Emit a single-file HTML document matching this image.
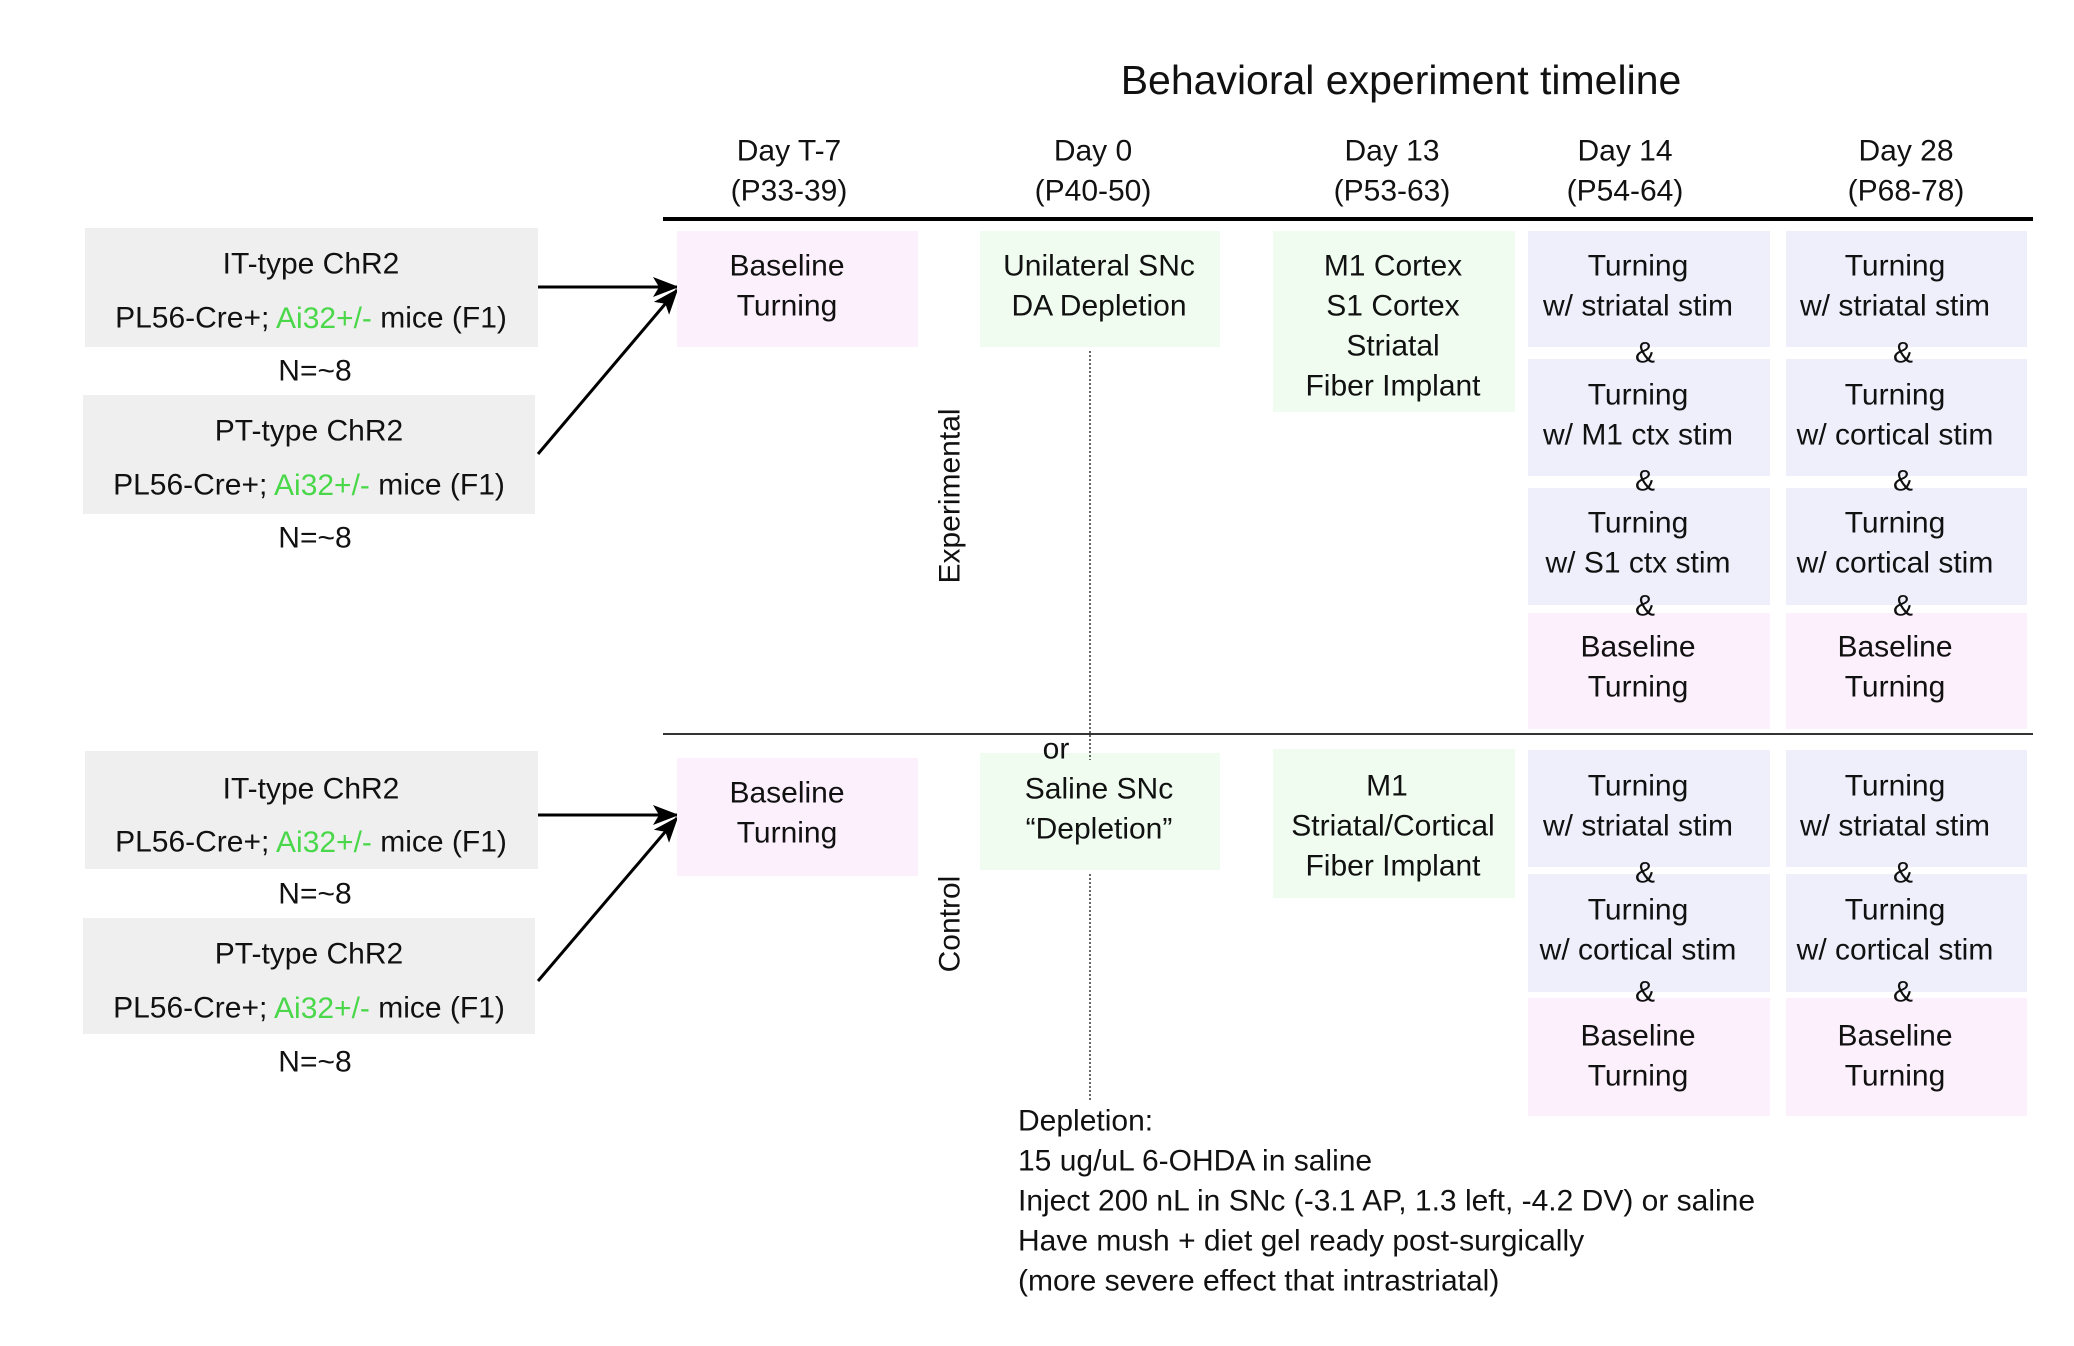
<!DOCTYPE html>
<html><head><meta charset="utf-8"><style>
html,body{margin:0;padding:0;background:#fff;}
svg{display:block;}
text{font-family:"Liberation Sans",Arial,sans-serif;font-size:30px;fill:#111;}
</style></head><body>
<svg width="2074" height="1346" viewBox="0 0 2074 1346" xmlns="http://www.w3.org/2000/svg">
<defs><marker id="ah" markerWidth="10" markerHeight="10" refX="9" refY="5" orient="auto" markerUnits="userSpaceOnUse" viewBox="0 0 10 10"><path d="M0,0 L10,5 L0,10 z" fill="#000"/></marker>
<marker id="ah2" markerWidth="26" markerHeight="26" refX="24" refY="13" orient="auto" markerUnits="userSpaceOnUse"><path d="M0,3 L26,13 L0,23 L6,13 z" fill="#000"/></marker></defs>

<text x="1401" y="80" text-anchor="middle" dominant-baseline="central" style="font-size:41px">Behavioral experiment timeline</text>

<g text-anchor="middle" dominant-baseline="central">
<text x="789" y="151">Day T-7</text><text x="789" y="191">(P33-39)</text>
<text x="1093" y="151">Day 0</text><text x="1093" y="191">(P40-50)</text>
<text x="1392" y="151">Day 13</text><text x="1392" y="191">(P53-63)</text>
<text x="1625" y="151">Day 14</text><text x="1625" y="191">(P54-64)</text>
<text x="1906" y="151">Day 28</text><text x="1906" y="191">(P68-78)</text>
</g>
<line x1="663" y1="219" x2="2033" y2="219" stroke="#000" stroke-width="4"/>
<line x1="663" y1="734" x2="2033" y2="734" stroke="#333" stroke-width="2"/>

<!-- left boxes -->
<rect x="85" y="228" width="453" height="119" fill="#efefef"/>
<rect x="83" y="395" width="452" height="119" fill="#efefef"/>
<rect x="85" y="751" width="453" height="118" fill="#efefef"/>
<rect x="83" y="918" width="452" height="116" fill="#efefef"/>
<g text-anchor="middle" dominant-baseline="central">
<text x="311" y="264">IT-type ChR2</text>
<text x="311" y="318">PL56-Cre+; <tspan fill="#4ad84a">Ai32+/-</tspan> mice (F1)</text>
<text x="315" y="371">N=~8</text>
<text x="309" y="431">PT-type ChR2</text>
<text x="309" y="485">PL56-Cre+; <tspan fill="#4ad84a">Ai32+/-</tspan> mice (F1)</text>
<text x="315" y="538">N=~8</text>
<text x="311" y="789">IT-type ChR2</text>
<text x="311" y="842">PL56-Cre+; <tspan fill="#4ad84a">Ai32+/-</tspan> mice (F1)</text>
<text x="315" y="894">N=~8</text>
<text x="309" y="954">PT-type ChR2</text>
<text x="309" y="1008">PL56-Cre+; <tspan fill="#4ad84a">Ai32+/-</tspan> mice (F1)</text>
<text x="315" y="1062">N=~8</text>
</g>
<line x1="538" y1="287" x2="677" y2="287" stroke="#000" stroke-width="3" marker-end="url(#ah2)"/>
<line x1="538" y1="454" x2="677" y2="290" stroke="#000" stroke-width="3" marker-end="url(#ah2)"/>
<line x1="538" y1="815" x2="677" y2="815" stroke="#000" stroke-width="3" marker-end="url(#ah2)"/>
<line x1="538" y1="981" x2="677" y2="818" stroke="#000" stroke-width="3" marker-end="url(#ah2)"/>

<!-- boxes -->
<g>
<rect x="677" y="231" width="241" height="116" fill="#fcf0fc"/>
<rect x="980" y="231" width="240" height="116" fill="#effcef"/>
<rect x="1273" y="231" width="242" height="181" fill="#effcef"/>
<rect x="1528" y="231" width="242" height="116" fill="#efeffc"/>
<rect x="1528" y="359" width="242" height="117" fill="#efeffc"/>
<rect x="1528" y="488" width="242" height="117" fill="#efeffc"/>
<rect x="1528" y="613" width="242" height="116" fill="#fcf0fc"/>
<rect x="1786" y="231" width="241" height="116" fill="#efeffc"/>
<rect x="1786" y="359" width="241" height="117" fill="#efeffc"/>
<rect x="1786" y="488" width="241" height="117" fill="#efeffc"/>
<rect x="1786" y="613" width="241" height="116" fill="#fcf0fc"/>

<rect x="677" y="758" width="241" height="118" fill="#fcf0fc"/>
<rect x="980" y="753" width="240" height="117" fill="#effcef"/>
<rect x="1273" y="749" width="242" height="149" fill="#effcef"/>
<rect x="1528" y="750" width="242" height="117" fill="#efeffc"/>
<rect x="1528" y="874" width="242" height="118" fill="#efeffc"/>
<rect x="1528" y="998" width="242" height="118" fill="#fcf0fc"/>
<rect x="1786" y="750" width="241" height="117" fill="#efeffc"/>
<rect x="1786" y="874" width="241" height="118" fill="#efeffc"/>
<rect x="1786" y="998" width="241" height="118" fill="#fcf0fc"/>
</g>
<line x1="1090" y1="351" x2="1090" y2="760" stroke="#333" stroke-width="1.5" stroke-dasharray="2,2"/>
<line x1="1090" y1="874" x2="1090" y2="1101" stroke="#333" stroke-width="1.5" stroke-dasharray="2,2"/>

<g text-anchor="middle" dominant-baseline="central">
<text x="787" y="266">Baseline</text><text x="787" y="306">Turning</text>
<text x="1099" y="266">Unilateral SNc</text><text x="1099" y="306">DA Depletion</text>
<text x="1393" y="266">M1 Cortex</text><text x="1393" y="306">S1 Cortex</text><text x="1393" y="346">Striatal</text><text x="1393" y="386">Fiber Implant</text>

<text x="1638" y="266">Turning</text><text x="1638" y="306">w/ striatal stim</text><text x="1645" y="353">&amp;</text>
<text x="1638" y="395">Turning</text><text x="1638" y="435">w/ M1 ctx stim</text><text x="1645" y="481">&amp;</text>
<text x="1638" y="523">Turning</text><text x="1638" y="563">w/ S1 ctx stim</text><text x="1645" y="606">&amp;</text>
<text x="1638" y="647">Baseline</text><text x="1638" y="687">Turning</text>

<text x="1895" y="266">Turning</text><text x="1895" y="306">w/ striatal stim</text><text x="1903" y="353">&amp;</text>
<text x="1895" y="395">Turning</text><text x="1895" y="435">w/ cortical stim</text><text x="1903" y="481">&amp;</text>
<text x="1895" y="523">Turning</text><text x="1895" y="563">w/ cortical stim</text><text x="1903" y="606">&amp;</text>
<text x="1895" y="647">Baseline</text><text x="1895" y="687">Turning</text>

<text x="1056" y="749">or</text>
<text x="787" y="793">Baseline</text><text x="787" y="833">Turning</text>
<text x="1099" y="789">Saline SNc</text><text x="1099" y="829">“Depletion”</text>
<text x="1387" y="786">M1</text><text x="1393" y="826">Striatal/Cortical</text><text x="1393" y="866">Fiber Implant</text>

<text x="1638" y="786">Turning</text><text x="1638" y="826">w/ striatal stim</text><text x="1645" y="873">&amp;</text>
<text x="1638" y="910">Turning</text><text x="1638" y="950">w/ cortical stim</text><text x="1645" y="992">&amp;</text>
<text x="1638" y="1036">Baseline</text><text x="1638" y="1076">Turning</text>
<text x="1895" y="786">Turning</text><text x="1895" y="826">w/ striatal stim</text><text x="1903" y="873">&amp;</text>
<text x="1895" y="910">Turning</text><text x="1895" y="950">w/ cortical stim</text><text x="1903" y="992">&amp;</text>
<text x="1895" y="1036">Baseline</text><text x="1895" y="1076">Turning</text>
</g>

<text x="0" y="0" text-anchor="middle" dominant-baseline="central" transform="translate(950,496) rotate(-90)">Experimental</text>
<text x="0" y="0" text-anchor="middle" dominant-baseline="central" transform="translate(950,924) rotate(-90)">Control</text>

<g dominant-baseline="central">
<text x="1018" y="1121">Depletion:</text>
<text x="1018" y="1161">15 ug/uL 6-OHDA in saline</text>
<text x="1018" y="1201">Inject 200 nL in SNc (-3.1 AP, 1.3 left, -4.2 DV) or saline</text>
<text x="1018" y="1241">Have mush + diet gel ready post-surgically</text>
<text x="1018" y="1281">(more severe effect that intrastriatal)</text>
</g>
</svg>
</body></html>
